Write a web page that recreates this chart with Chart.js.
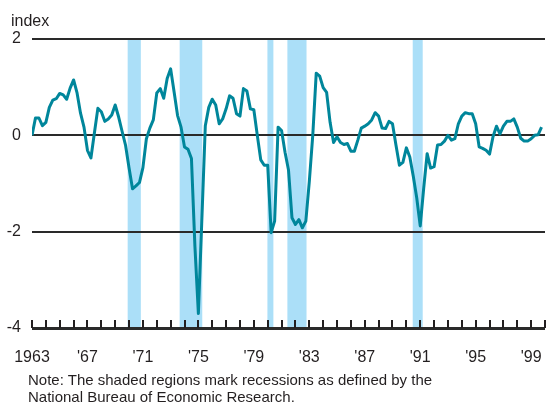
<!DOCTYPE html>
<html>
<head>
<meta charset="utf-8">
<script src="https://cdn.jsdelivr.net/npm/chart.js@4.4.1/dist/chart.umd.min.js"></script>
<style>
  html, body { margin: 0; padding: 0; background: #ffffff; }
  #wrap { position: relative; width: 546px; height: 405px; font-family: "Liberation Sans", Arial, Helvetica, sans-serif; color: #231f20; }
  #chartBox { position: absolute; left: 0; top: 0; width: 546px; height: 405px; }
  #unit { position: absolute; left: 11px; top: 11px; font-size: 16px; line-height: 19px; }
  #note { position: absolute; left: 28px; top: 371px; font-size: 15px; line-height: 17px; white-space: nowrap; }
</style>
</head>
<body>
<div id="wrap">
  <div id="chartBox"><canvas id="c"></canvas></div>
  <div id="unit">index</div>
  <div id="note">Note: The shaded regions mark recessions as defined by the<br>National Bureau of Economic Research.</div>
</div>
<script>
// ---- Data (quarterly, starting 1963 Q1) ----
const startYear = 1963;
const endYear = 2000;
const indexValues = [
  0.00, 0.36, 0.36, 0.20, 0.27, 0.58, 0.73, 0.76, 0.87, 0.84,
  0.75, 0.98, 1.15, 0.88, 0.46, 0.17, -0.31, -0.47, 0.05, 0.56,
  0.49, 0.29, 0.34, 0.42, 0.63, 0.38, 0.08, -0.21, -0.68, -1.11,
  -1.05, -0.98, -0.67, -0.07, 0.15, 0.32, 0.88, 0.97, 0.77, 1.18,
  1.38, 0.90, 0.41, 0.17, -0.24, -0.29, -0.48, -2.30, -3.70, -1.75,
  0.20, 0.58, 0.75, 0.63, 0.24, 0.34, 0.55, 0.82, 0.77, 0.45,
  0.40, 0.97, 0.92, 0.55, 0.53, 0.00, -0.51, -0.62, -0.62, -2.02,
  -1.78, 0.17, 0.10, -0.35, -0.72, -1.71, -1.85, -1.75, -1.92, -1.78,
  -0.96, 0.00, 1.29, 1.23, 0.99, 0.89, 0.27, -0.15, -0.03, -0.15,
  -0.19, -0.17, -0.33, -0.33, -0.10, 0.15, 0.19, 0.24, 0.32, 0.47,
  0.40, 0.15, 0.14, 0.29, 0.24, -0.20, -0.62, -0.56, -0.26, -0.45,
  -0.85, -1.30, -1.88, -1.10, -0.38, -0.68, -0.65, -0.20, -0.19, -0.12,
  0.00, -0.10, -0.07, 0.24, 0.40, 0.47, 0.45, 0.45, 0.24, -0.24,
  -0.27, -0.31, -0.39, -0.03, 0.19, 0.03, 0.19, 0.29, 0.29, 0.34,
  0.17, -0.06, -0.12, -0.12, -0.07, 0.00, 0.01, 0.17
];
const recessionStarts = [1969.90, 1973.65, 1979.98, 1981.42, 1990.46];
const recessionEnds   = [1970.85, 1975.28, 1980.41, 1982.80, 1991.18];
const labelYears = [1963, 1967, 1971, 1975, 1979, 1983, 1987, 1991, 1995, 1999];
const labelTexts = ['1963', "'67", "'71", "'75", "'79", "'83", "'87", "'91", "'95", "'99"];
const yTicks = [-4, -2, 0, 2];

const points = indexValues.map((v, i) => ({ x: startYear + i / 4, y: v }));

const INK = '#231f20';
const FONT = '"Liberation Sans", Arial, Helvetica, sans-serif';

const recessionPlugin = {
  id: 'recessions',
  beforeDraw(chart) {
    const { ctx, chartArea, scales } = chart;
    ctx.save();
    ctx.fillStyle = '#abdff8';
    recessionStarts.forEach((s, i) => {
      const x1 = scales.x.getPixelForValue(s);
      const x2 = scales.x.getPixelForValue(recessionEnds[i]);
      ctx.fillRect(x1, chartArea.top - 1, x2 - x1, chartArea.bottom - chartArea.top + 1);
    });
    ctx.restore();
  }
};

const yearTickPlugin = {
  id: 'yearTicks',
  afterDraw(chart) {
    const { ctx, chartArea, scales } = chart;
    ctx.save();
    ctx.strokeStyle = INK;
    ctx.lineWidth = 2;
    scales.x.ticks.forEach(t => {
      const x = Math.round(scales.x.getPixelForValue(t.value));
      ctx.beginPath();
      ctx.moveTo(x, chartArea.bottom);
      ctx.lineTo(x, chartArea.bottom - 8);
      ctx.stroke();
    });
    ctx.restore();
  }
};

new Chart(document.getElementById('c'), {
  type: 'line',
  data: {
    datasets: [{
      data: points,
      borderColor: '#00869b',
      borderWidth: 3,
      borderJoinStyle: 'round',
      borderCapStyle: 'butt',
      pointRadius: 0,
      tension: 0,
      fill: false
    }]
  },
  options: {
    responsive: true,
    maintainAspectRatio: false,
    animation: false,
    events: [],
    layout: { padding: { top: 39, right: 1, left: 0, bottom: 0 } },
    plugins: { legend: { display: false }, tooltip: { enabled: false }, title: { display: false } },
    scales: {
      x: {
        type: 'linear',
        min: startYear,
        max: endYear,
        offset: false,
        grid: { display: false },
        border: { display: false },
        afterFit(s) { s.height = 77; s.paddingLeft = 0; s.paddingRight = 0; },
        afterBuildTicks(s) {
          const t = [];
          for (let y = startYear; y <= endYear; y++) t.push({ value: y });
          s.ticks = t;
        },
        ticks: {
          autoSkip: false,
          maxRotation: 0,
          padding: 12,
          color: INK,
          font: { family: FONT, size: 16 },
          callback(v) {
            const k = labelYears.indexOf(v);
            return k >= 0 ? labelTexts[k] : '';
          }
        }
      },
      y: {
        min: -4,
        max: 2,
        afterFit(s) { s.width = 32; s.paddingTop = 0; s.paddingBottom = 0; },
        afterBuildTicks(s) { s.ticks = yTicks.map(v => ({ value: v })); },
        border: { display: false },
        grid: {
          drawTicks: false,
          color: '#2a2a2a',
          lineWidth: c => (c.tick && c.tick.value === -4) ? 3 : 2
        },
        ticks: {
          padding: 11,
          color: INK,
          font: { family: FONT, size: 16 },
          callback: v => String(v)
        }
      }
    }
  },
  plugins: [recessionPlugin, yearTickPlugin]
});
</script>
</body>
</html>
